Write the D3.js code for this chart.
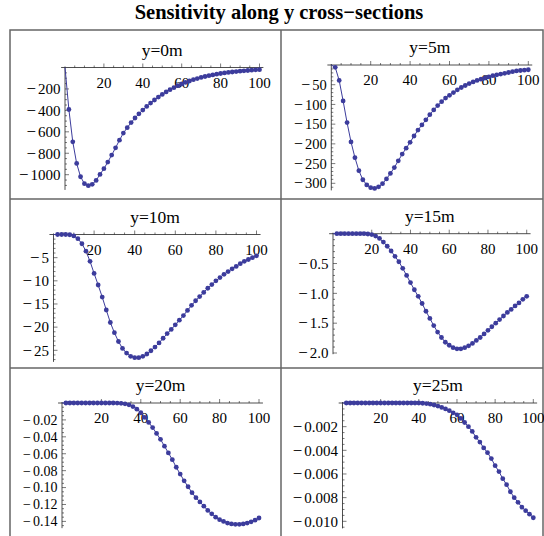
<!DOCTYPE html>
<html>
<head>
<meta charset="utf-8">
<script src="https://cdn.jsdelivr.net/npm/d3@7"></script>
<style>
  body { margin: 0; background: #fff; }
  text { font-family: "Liberation Serif", "Times New Roman", serif; }
</style>
</head>
<body>
<svg id="chart" width="544" height="536"></svg>
<script>
// x grid (m)
const xs = [0, 2, 4, 6, 8, 10, 12, 14, 16, 18, 20, 22, 24, 26, 28, 30, 32, 34, 36, 38, 40,
    42, 44, 46, 48, 50, 52, 54, 56, 58, 60, 62, 64, 66, 68, 70, 72, 74, 76, 78, 80,
    82, 84, 86, 88, 90, 92, 94, 96, 98, 100];

// sensitivity values
const y0m = [0, -392, -693, -895, -1019, -1084, -1102, -1090, -1053, -997, -944, -882, -817, -749, -678, -612,
    -561, -514, -471, -432, -397, -363, -332, -303, -276, -251, -228, -207, -188, -170, -154,
    -139, -126, -114, -103, -93, -84, -76, -69, -62, -56, -51, -46, -42, -38, -34, -31, -28, -25, -22, -20];
const y5m = [0, -6, -39, -91, -146, -195, -235, -268, -291, -304, -311, -313, -309, -301, -289, -275,
    -260, -243, -226, -211, -196, -180, -165, -152, -139, -126, -114, -103, -93, -84, -77,
    -70, -63, -57, -52, -47, -43, -39, -36, -33, -30, -27, -25, -23, -21, -19, -17, -15, -14, -13, -12];
const y10m = [0, 0, 0, 0, -0.05, -0.3, -0.9, -2.0, -3.6, -5.8, -8.4, -10.9, -13.5, -16.3, -19.0, -21.2,
    -23.1, -24.6, -25.6, -26.3, -26.6, -26.6, -26.3, -25.8, -25.1, -24.3, -23.4, -22.4, -21.4, -20.5, -19.5,
    -18.5, -17.5, -16.4, -15.3, -14.3, -13.4, -12.5, -11.6, -10.8, -10.0, -9.3, -8.6, -8.0, -7.4, -6.9,
    -6.3, -5.8, -5.4, -5.0, -4.6];
const y15m = [0, 0, 0, 0, 0, 0, 0, 0, 0, -0.005, -0.015, -0.04, -0.08, -0.14, -0.21, -0.29,
    -0.38, -0.47, -0.58, -0.70, -0.82, -0.94, -1.05, -1.17, -1.30, -1.42, -1.54, -1.65, -1.74, -1.82, -1.87,
    -1.91, -1.93, -1.93, -1.91, -1.88, -1.84, -1.79, -1.74, -1.68, -1.62, -1.56, -1.50, -1.44, -1.38, -1.32,
    -1.27, -1.21, -1.16, -1.10, -1.05];
const y20m = [0, 0, 0, 0, 0, 0, 0, 0, 0, 0, 0, 0, 0, 0, -0.0001, -0.0004,
    -0.001, -0.0022, -0.0042, -0.0073, -0.0115, -0.017, -0.023, -0.029, -0.036, -0.043, -0.051, -0.059, -0.067, -0.076, -0.084,
    -0.092, -0.099, -0.106, -0.112, -0.117, -0.122, -0.127, -0.131, -0.135, -0.138, -0.140, -0.142, -0.143, -0.1435, -0.1435,
    -0.143, -0.142, -0.1405, -0.1385, -0.136];
const y25m = [0, 0, 0, 0, 0, 0, 0, 0, 0, 0, 0, 0, 0, 0, 0, 0, 0, 0, 0, 0, 0,
    -0.00002, -0.00005, -0.0001, -0.00017, -0.00026, -0.00037, -0.0005, -0.00065, -0.00083, -0.001,
    -0.0013, -0.00165, -0.002, -0.0024, -0.0029, -0.0033, -0.0038, -0.0042, -0.0047, -0.0053,
    -0.0058, -0.0064, -0.0069, -0.0075, -0.008, -0.0084, -0.0088, -0.0091, -0.0094, -0.0097];

// tick labels
const xTicks = [20, 40, 60, 80, 100];
const yTicks0 = [-200, -400, -600, -800, -1000];
const yTicks5 = [-50, -100, -150, -200, -250, -300];
const yTicks10 = [-5, -10, -15, -20, -25];
const yTicks15 = [-0.5, -1.0, -1.5, -2.0];
const yTicks20 = [-0.02, -0.04, -0.06, -0.08, -0.10, -0.12, -0.14];
const yTicks25 = [-0.002, -0.004, -0.006, -0.008, -0.010];

const titles = ["y=0m", "y=5m", "y=10m", "y=15m", "y=20m", "y=25m"];

// layout of each cell (pixel ranges for x 0..100 and y 0..yref); ms = size of the minus sign
const panels = [
    {title: titles[0], vals: y0m,  ticks: yTicks0,  minor: 50,     fmt: "d",   fs: 15,   ms: 1.12, xr: [65, 259.5],    yr: [67.5, 174.7], yref: -1000,  ymin: -1142},
    {title: titles[1], vals: y5m,  ticks: yTicks5,  minor: 10,     fmt: "d",   fs: 14.5, ms: 1.1,  xr: [331.3, 528.3], yr: [65, 183.3],   yref: -300,   ymin: -318},
    {title: titles[2], vals: y10m, ticks: yTicks10, minor: 1,      fmt: "d",   fs: 15,   ms: 1.12, xr: [53.5, 256.5],  yr: [234.5, 350.3], yref: -25,   ymin: -27.5},
    {title: titles[3], vals: y15m, ticks: yTicks15, minor: 0.1,    fmt: ".1f", fs: 15,   ms: 1.12, xr: [333, 526.7],   yr: [233.7, 353],  yref: -2,     ymin: -2.02},
    {title: titles[4], vals: y20m, ticks: yTicks20, minor: 0.005,  fmt: ".2f", fs: 14,   ms: 1,    xr: [62, 259],      yr: [403, 521.4],  yref: -0.14,  ymin: -0.148},
    {title: titles[5], vals: y25m, ticks: yTicks25, minor: 0.0005, fmt: ".3f", fs: 15,   ms: 1.12, xr: [342.5, 533.3], yr: [403, 521.3],  yref: -0.010, ymin: -0.0106}
];

const svg = d3.select("#chart");
const dotColor = "#3c3c9c";

svg.append("text")
    .attr("x", 279).attr("y", 19)
    .attr("text-anchor", "middle")
    .attr("font-size", 20.5).attr("font-weight", "bold")
    .text("Sensitivity along y cross\u2212sections");

// grid frame
const frame = svg.append("g").attr("stroke", "#666").attr("stroke-width", 1.5).attr("fill", "none");
frame.append("rect").attr("x", 10).attr("y", 30).attr("width", 533).attr("height", 530);
frame.append("line").attr("x1", 281).attr("x2", 281).attr("y1", 30).attr("y2", 536);
frame.append("line").attr("x1", 10).attr("x2", 543).attr("y1", 199).attr("y2", 199);
frame.append("line").attr("x1", 10).attr("x2", 543).attr("y1", 368).attr("y2", 368);

panels.forEach(p => {
    const x = d3.scaleLinear().domain([0, 100]).range(p.xr);
    const y = d3.scaleLinear().domain([0, p.yref]).range(p.yr);
    const g = svg.append("g");
    const fmt = d3.format(p.fmt);

    // title
    g.append("text")
        .attr("x", (x(-2) + x(102)) / 2).attr("y", y(0) - 18)
        .attr("dy", "0.35em")
        .attr("text-anchor", "middle").attr("font-size", 17.5)
        .text(p.title);

    // axes
    g.append("line").attr("x1", x(-2)).attr("x2", x(102)).attr("y1", y(0)).attr("y2", y(0))
        .attr("stroke", "#222").attr("stroke-width", 0.8);
    g.append("line").attr("x1", x(0)).attr("x2", x(0)).attr("y1", y(0) - 1).attr("y2", y(p.ymin))
        .attr("stroke", "#222").attr("stroke-width", 0.8);

    // x ticks
    const xMinor = d3.range(5, 101, 5);
    g.selectAll(".xt").data(xMinor).join("line")
        .attr("x1", d => x(d)).attr("x2", d => x(d))
        .attr("y1", y(0)).attr("y2", d => y(0) - (d % 20 === 0 ? 4 : 2))
        .attr("stroke", "#222").attr("stroke-width", 0.6);
    g.selectAll(".xl").data(xTicks).join("text")
        .attr("x", d => x(d)).attr("y", y(0) + 15).attr("dy", "0.35em")
        .attr("text-anchor", "middle").attr("font-size", 15)
        .text(d => d);

    // y ticks
    const nMinor = Math.floor(-p.ymin / p.minor + 1e-6);
    const yMinor = d3.range(1, nMinor + 1).map(i => -i * p.minor);
    const isMajor = v => p.ticks.some(t => Math.abs(t - v) < p.minor * 0.01);
    g.selectAll(".yt").data(yMinor).join("line")
        .attr("x1", x(0)).attr("x2", d => x(0) + (isMajor(d) ? 4 : 2))
        .attr("y1", d => y(d)).attr("y2", d => y(d))
        .attr("stroke", "#222").attr("stroke-width", 0.6);
    // Mathematica style: a long minus sign, a small gap, then the digits
    const base = p.fs * 0.35;
    const yl = g.selectAll(".yl").data(p.ticks).join("text")
        .attr("x", x(0) - 4.5).attr("y", d => y(d))
        .attr("text-anchor", "end").attr("font-size", p.fs);
    yl.append("tspan").attr("font-size", p.fs * p.ms).attr("dy", base).text("\u2212");
    yl.append("tspan").attr("dx", 2).text(d => fmt(Math.abs(d)));

    // data
    const pts = xs.map((xv, i) => [xv, p.vals[i]]);
    g.append("path")
        .attr("d", d3.line().x(d => x(d[0])).y(d => y(d[1]))(pts))
        .attr("fill", "none").attr("stroke", dotColor).attr("stroke-width", 1);
    g.selectAll("circle").data(pts.slice(1)).join("circle")
        .attr("cx", d => x(d[0])).attr("cy", d => y(d[1]))
        .attr("r", 2.4).attr("fill", dotColor);
});
</script>
</body>
</html>
